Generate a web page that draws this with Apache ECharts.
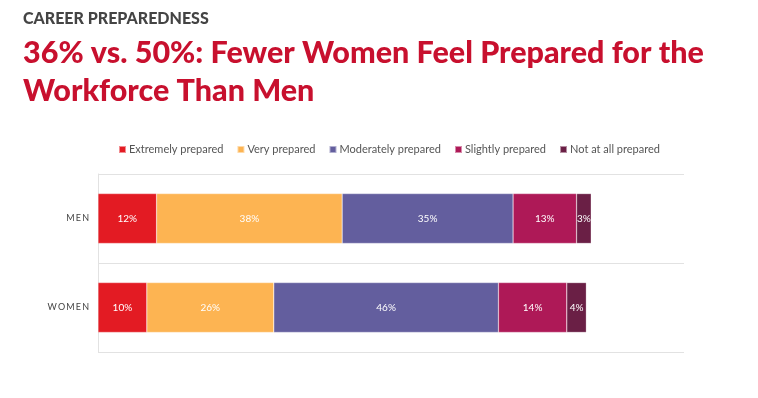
<!DOCTYPE html>
<html>
<head>
<meta charset="utf-8">
<script src="https://cdn.jsdelivr.net/npm/echarts@6/dist/echarts.min.js"></script>
<style>
* { margin: 0; padding: 0; }
html, body { background: #fff; }
#chart { width: 758px; height: 398px; }
</style>
</head>
<body>
<div id="chart"></div>
<script>
// categories, top to bottom
const groups = ['MEN', 'WOMEN']
const levels = ['Extremely prepared', 'Very prepared', 'Moderately prepared', 'Slightly prepared', 'Not at all prepared']
// percentages per level, [MEN, WOMEN]
const extremely = [12, 10]
const very = [38, 26]
const moderately = [35, 46]
const slightly = [13, 14]
const notAtAll = [3, 4]
const colors = ['#E31B23', '#FDB452', '#635E9E', '#AE1957', '#6A1F45']

const values = [extremely, very, moderately, slightly, notAtAll]

const chart = echarts.init(document.getElementById('chart'))
chart.setOption({
    animation: false,
    title: [
        {
            text: 'CAREER PREPAREDNESS',
            left: 18, top: 6,
            textStyle: { fontFamily: 'Lato', fontWeight: 900, fontSize: 16, color: '#444' }
        },
        {
            text: '36% vs. 50%: Fewer Women Feel Prepared for the\nWorkforce Than Men',
            left: 18, top: 29,
            textStyle: { fontFamily: 'Lato', fontWeight: 900, fontSize: 30.5, lineHeight: 38, color: '#C8102E' }
        }
    ],
    legend: {
        data: levels,
        left: 113, top: 139,
        icon: 'rect', itemWidth: 7, itemHeight: 7, itemGap: 13,
        textStyle: { fontFamily: 'Lato', fontSize: 11, color: '#555', padding: [0, 0, 0, -2] }
    },
    grid: { left: 98, right: 74, top: 174, bottom: 46 },
    xAxis: {
        type: 'value', min: 0, max: 120,
        show: false
    },
    yAxis: {
        type: 'category', data: groups, inverse: true,
        axisLine: { show: true, lineStyle: { color: '#E2E2E2' } },
        axisTick: { show: false },
        splitLine: { show: true, lineStyle: { color: '#E2E2E2' } },
        axisLabel: {
            margin: 9, fontFamily: 'Lato', fontSize: 9, color: '#444',
            formatter: v => v.split('').join('\u2009')
        }
    },
    series: levels.map((name, i) => ({
        name: name,
        type: 'bar',
        stack: 'total',
        barWidth: '56%',
        data: values[i],
        itemStyle: { color: colors[i], borderColor: 'rgba(255,255,255,0.5)', borderWidth: 0.5 },
        label: {
            show: true, position: 'inside', color: '#fff',
            fontFamily: 'Lato', fontSize: 10,
            formatter: p => p.value + '%'
        }
    }))
})
</script>
</body>
</html>
